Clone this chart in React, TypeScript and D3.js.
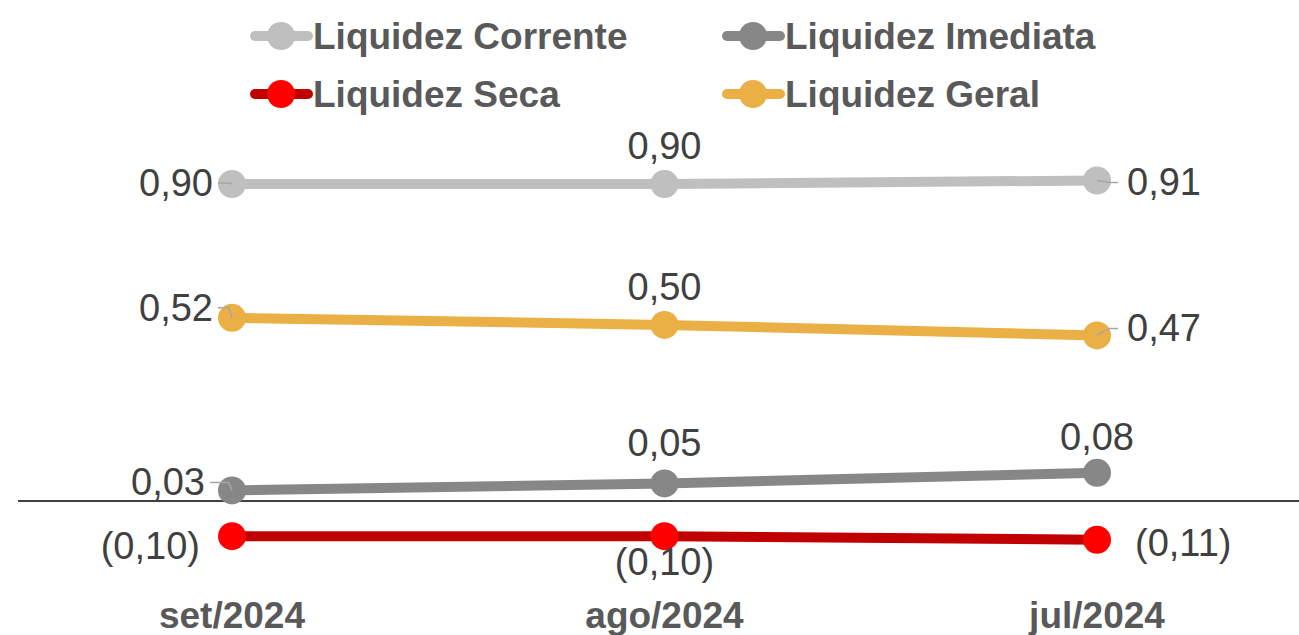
import React, { useEffect, useRef } from 'react';
import * as d3 from 'd3';

const months = ['set/2024', 'ago/2024', 'jul/2024'];

const corrente = [0.9, 0.9, 0.91];
const imediata = [0.03, 0.05, 0.08];
const seca = [-0.1, -0.1, -0.11];
const geral = [0.52, 0.5, 0.47];

const seriesNames = ['Liquidez Corrente', 'Liquidez Imediata', 'Liquidez Seca', 'Liquidez Geral'];

// label placement per point: [dx, dy, anchor]
type Place = [number, number, 'start' | 'middle' | 'end'];
const labelPlaces: Record<string, Place[]> = {
  'Liquidez Corrente': [[-19, -1, 'end'], [0, -38, 'middle'], [30, 2, 'start']],
  'Liquidez Geral': [[-19, -10, 'end'], [0, -38, 'middle'], [30, -7, 'start']],
  'Liquidez Imediata': [[-27, -8, 'end'], [0, -40, 'middle'], [0, -36, 'middle']],
  'Liquidez Seca': [[-32, 10, 'end'], [0, 26, 'middle'], [38, 3, 'start']],
};

const fmt = (v: number) => {
  const s = Math.abs(v).toFixed(2).replace('.', ',');
  return v < 0 ? `(${s})` : s;
};

export default function App() {
  const svgRef = useRef<SVGSVGElement>(null);

  useEffect(() => {
    if (!svgRef.current) return;
    const svg = d3.select(svgRef.current);
    svg.selectAll('*').remove();

    const series = [
      { name: seriesNames[0], values: corrente, line: '#bfbfbf', dot: '#bfbfbf' },
      { name: seriesNames[1], values: imediata, line: '#878787', dot: '#878787' },
      { name: seriesNames[2], values: seca, line: '#c00000', dot: '#ff0000' },
      { name: seriesNames[3], values: geral, line: '#ebb045', dot: '#ebb045' },
    ];

    const x = d3.scalePoint<string>().domain(months).range([232, 1097]);
    const y = d3.scaleLinear().domain([0, 0.9]).range([501, 184]);

    const font = 'Liberation Sans, Arial, sans-serif';

    // zero line
    svg.append('line')
      .attr('x1', 18).attr('x2', 1299)
      .attr('y1', y(0)).attr('y2', y(0))
      .attr('stroke', '#000').attr('stroke-width', 1.5);

    const line = d3.line<number>()
      .x((_, i) => x(months[i])!)
      .y(d => y(d));

    // draw order: Corrente, Geral, Imediata, Seca
    const order = [0, 3, 1, 2];
    order.forEach(si => {
      const s = series[si];
      svg.append('path')
        .attr('d', line(s.values)!)
        .attr('fill', 'none')
        .attr('stroke', s.line)
        .attr('stroke-width', 10);
      svg.selectAll(null)
        .data(s.values)
        .enter()
        .append('circle')
        .attr('cx', (_, i) => x(months[i])!)
        .attr('cy', d => y(d))
        .attr('r', 14)
        .attr('fill', s.dot);
    });

    // data labels + leader lines
    series.forEach(s => {
      s.values.forEach((v, i) => {
        const [dx, dy, anchor] = labelPlaces[s.name][i];
        const px = x(months[i])!;
        const py = y(v);
        const lx = px + dx;
        const ly = py + dy;
        if (anchor === 'end' && dy <= 0 && s.name !== 'Liquidez Seca') {
          svg.append('polyline')
            .attr('points', [[lx + 5, ly], [px - 3, ly], [px, py]].map(p => p.join(',')).join(' '))
            .attr('fill', 'none').attr('stroke', '#a6a6a6').attr('stroke-width', 1.5);
        }
        if (anchor === 'start' && s.name !== 'Liquidez Seca') {
          svg.append('polyline')
            .attr('points', [[px, py], [px + 12, ly], [lx - 9, ly]].map(p => p.join(',')).join(' '))
            .attr('fill', 'none').attr('stroke', '#a6a6a6').attr('stroke-width', 1.5);
        }
        svg.append('text')
          .attr('x', lx)
          .attr('y', ly)
          .attr('text-anchor', anchor)
          .attr('dominant-baseline', 'central')
          .attr('font-family', font)
          .attr('font-size', 38)
          .attr('fill', '#404040')
          .text(fmt(v));
      });
    });

    // x axis labels
    svg.selectAll(null)
      .data(months)
      .enter()
      .append('text')
      .attr('x', d => x(d)!)
      .attr('y', 615)
      .attr('text-anchor', 'middle')
      .attr('dominant-baseline', 'central')
      .attr('font-family', font)
      .attr('font-weight', 'bold')
      .attr('font-size', 37)
      .attr('fill', '#595959')
      .text(d => d);

    // legend
    const legendPos = [
      [250, 36], [722, 36], [250, 94], [722, 94],
    ];
    series.forEach((s, i) => {
      const [lx, ly] = legendPos[i];
      const g = svg.append('g').attr('transform', `translate(${lx},${ly})`);
      g.append('line')
        .attr('x1', 5).attr('x2', 58).attr('y1', 0).attr('y2', 0)
        .attr('stroke', s.line).attr('stroke-width', 10).attr('stroke-linecap', 'round');
      g.append('circle').attr('cx', 31).attr('cy', 0).attr('r', 14).attr('fill', s.dot);
      g.append('text')
        .attr('x', 63).attr('y', 0)
        .attr('dominant-baseline', 'central')
        .attr('font-family', font)
        .attr('font-weight', 'bold')
        .attr('font-size', 37)
        .attr('fill', '#595959')
        .text(s.name);
    });
  }, []);

  return (
    <svg
      ref={svgRef}
      width={1299}
      height={635}
      style={{ position: 'absolute', left: 0, top: 0, background: '#fff' }}
    />
  );
}
